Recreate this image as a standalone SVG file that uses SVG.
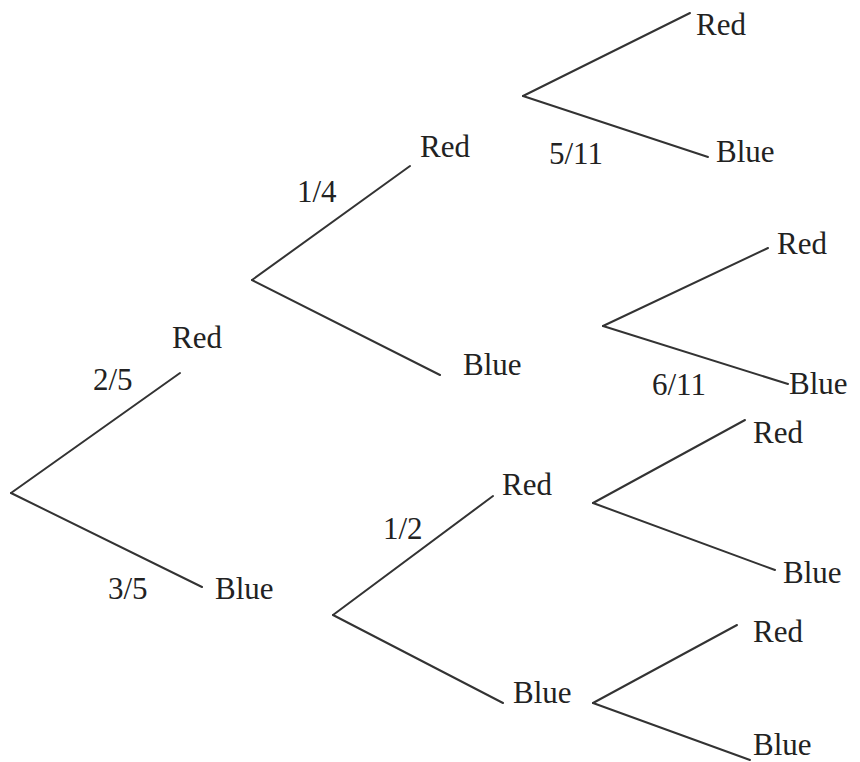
<svg xmlns="http://www.w3.org/2000/svg" width="860" height="762" viewBox="0 0 860 762">
<style>
.t{font-size:31px;fill:#222}
.c line{stroke:#333;stroke-width:2;stroke-linecap:round}
</style>
<rect width="860" height="762" fill="#fff"/>
<g class="c" id="connectors">
<line x1="11" y1="493" x2="180" y2="373"/>
<line x1="11" y1="493" x2="202" y2="587"/>
<line x1="252" y1="280" x2="410" y2="166"/>
<line x1="252" y1="280" x2="440" y2="375"/>
<line x1="523" y1="96" x2="690" y2="13"/>
<line x1="523" y1="96" x2="708" y2="157"/>
<line x1="603" y1="326" x2="768" y2="248"/>
<line x1="603" y1="326" x2="788" y2="384"/>
<line x1="333" y1="615" x2="493" y2="496"/>
<line x1="333" y1="615" x2="503" y2="703"/>
<line x1="593" y1="503" x2="745" y2="420"/>
<line x1="593" y1="503" x2="775" y2="570"/>
<line x1="593" y1="703" x2="737" y2="625"/>
<line x1="593" y1="703" x2="750" y2="760"/>
</g>
<g font-family="Liberation Serif, DejaVu Serif, serif">
<g id="n-red1"><text class="t" x="172" y="348">Red</text></g>
<g id="n-blue1"><text class="t" x="215" y="599">Blue</text></g>
<g id="n-red-red"><text class="t" x="420" y="157">Red</text></g>
<g id="n-red-blue"><text class="t" x="463" y="375">Blue</text></g>
<g id="n-rrr"><text class="t" x="696" y="35">Red</text></g>
<g id="n-rrb"><text class="t" x="716" y="162">Blue</text></g>
<g id="n-rbr"><text class="t" x="777" y="254">Red</text></g>
<g id="n-rbb"><text class="t" x="789" y="394">Blue</text></g>
<g id="n-blue-red"><text class="t" x="502" y="495">Red</text></g>
<g id="n-blue-blue"><text class="t" x="513" y="703">Blue</text></g>
<g id="n-brr"><text class="t" x="753" y="443">Red</text></g>
<g id="n-brb"><text class="t" x="783" y="583">Blue</text></g>
<g id="n-bbr"><text class="t" x="753" y="642">Red</text></g>
<g id="n-bbb"><text class="t" x="753" y="755">Blue</text></g>
<g id="labels">
<text class="t" x="93" y="390">2/5</text>
<text class="t" x="108" y="599">3/5</text>
<text class="t" x="297" y="202">1/4</text>
<text class="t" x="549" y="164">5/11</text>
<text class="t" x="652" y="395">6/11</text>
<text class="t" x="383" y="539">1/2</text>
</g>
</g>
</svg>
